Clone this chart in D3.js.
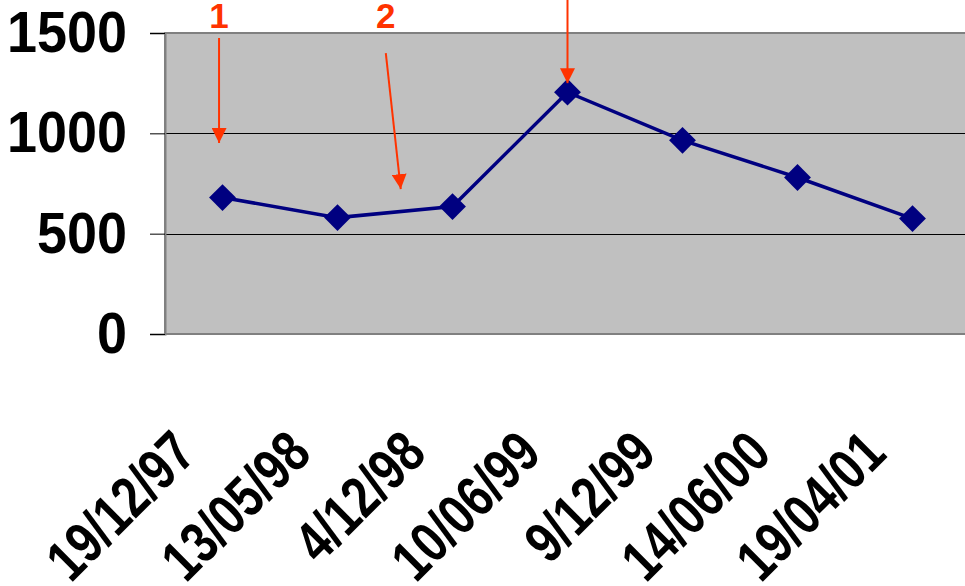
<!DOCTYPE html>
<html>
<head>
  <meta charset="UTF-8">
  <title>Line chart</title>
  <script src="https://d3js.org/d3.v7.min.js"></script>
  <style>
    html, body { margin: 0; padding: 0; background: #fff; }
    svg { display: block; font-family: Arial, "Liberation Sans", sans-serif; font-weight: bold; }
  </style>
</head>
<body>
  <div id="chart"></div>
  <script>
    // data
    const categories = ["19/12/97", "13/05/98", "4/12/98", "10/06/99", "9/12/99", "14/06/00", "19/04/01"];
    const values = [680, 580, 635, 1205, 965, 780, 575];
    const yTicks = [0, 500, 1000, 1500];
    const gridValues = [500, 1000];

    // annotation arrows (category index, value) : from -> to
    const arrowLabels = ["1", "2", ""];
    const arrowFrom = [[-0.03, 1475], [1.42, 1400], [3.0, 1700]];
    const arrowTo = [[-0.03, 952], [1.55, 722], [3.0, 1250]];
    const labelPos = [[-0.03, 1525], [1.42, 1525], [3.0, 1800]];

    const W = 965, H = 586;
    const plot = { left: 165, right: 970, top: 33, bottom: 334 };

    const svg = d3.select("#chart").append("svg")
      .attr("width", W).attr("height", H);

    const x = d3.scaleLinear().domain([-0.5, categories.length - 0.5]).range([plot.left, plot.right]);
    const y = d3.scaleLinear().domain([0, 1500]).range([plot.bottom, plot.top]);

    // plot area
    svg.append("rect")
      .attr("x", plot.left).attr("y", plot.top)
      .attr("width", plot.right - plot.left).attr("height", plot.bottom - plot.top)
      .attr("fill", "#c0c0c0")
      .attr("stroke", "#808080").attr("stroke-width", 2);

    // gridlines
    svg.append("g").selectAll("line")
      .data(gridValues).enter().append("line")
      .attr("x1", plot.left).attr("x2", plot.right)
      .attr("y1", d => Math.round(y(d)) + 0.5).attr("y2", d => Math.round(y(d)) + 0.5)
      .attr("stroke", "#000").attr("stroke-width", 1);

    // y axis
    const yAxis = svg.append("g")
      .attr("transform", `translate(${plot.left},0)`)
      .call(d3.axisLeft(y).tickValues(yTicks).tickFormat(d3.format("d")).tickSize(15).tickPadding(23));
    yAxis.select(".domain").attr("stroke", "#808080").attr("stroke-width", 2);
    yAxis.selectAll(".tick line").attr("stroke", "#000");
    yAxis.selectAll(".tick text")
      .attr("x", 0)
      .attr("transform", "translate(-38,0) scale(0.93,1)")
      .attr("font-size", 58).attr("font-weight", "bold")
      .attr("font-family", "Arial, 'Liberation Sans', sans-serif")
      .attr("fill", "#000");

    // x labels (glyphs a bit condensed, like the original)
    svg.append("g").selectAll("text")
      .data(categories).enter().append("text")
      .attr("transform", (d, i) => `translate(${x(i) - 24},456) rotate(-45) scale(0.8,1)`)
      .attr("text-anchor", "end")
      .attr("font-size", 58)
      .attr("fill", "#000")
      .text(d => d);

    // line
    svg.append("path")
      .datum(values)
      .attr("fill", "none")
      .attr("stroke", "#000080")
      .attr("stroke-width", 3.5)
      .attr("d", d3.line().x((d, i) => x(i)).y(d => y(d)));

    // markers
    svg.append("g").selectAll("path")
      .data(values).enter().append("path")
      .attr("transform", (d, i) => `translate(${x(i)},${y(d)}) rotate(45)`)
      .attr("d", d3.symbol().type(d3.symbolSquare).size(360))
      .attr("fill", "#000080");

    // annotations
    const red = "#ff3300";
    svg.append("defs").append("marker")
      .attr("id", "head")
      .attr("viewBox", "0 0 10 10")
      .attr("refX", 10).attr("refY", 5)
      .attr("markerWidth", 15).attr("markerHeight", 15)
      .attr("markerUnits", "userSpaceOnUse")
      .attr("orient", "auto")
      .append("path").attr("d", "M0,0 L10,5 L0,10 Z").attr("fill", red);

    svg.append("g").selectAll("line")
      .data(arrowFrom).enter().append("line")
      .attr("x1", d => x(d[0])).attr("y1", d => y(d[1]))
      .attr("x2", (d, i) => x(arrowTo[i][0])).attr("y2", (d, i) => y(arrowTo[i][1]))
      .attr("stroke", red).attr("stroke-width", 2)
      .attr("marker-end", "url(#head)");

    svg.append("g").selectAll("text")
      .data(arrowLabels).enter().append("text")
      .attr("x", (d, i) => x(labelPos[i][0]))
      .attr("y", (d, i) => y(labelPos[i][1]))
      .attr("text-anchor", "middle")
      .attr("font-size", 35)
      .attr("fill", red)
      .text(d => d);
  </script>
</body>
</html>
